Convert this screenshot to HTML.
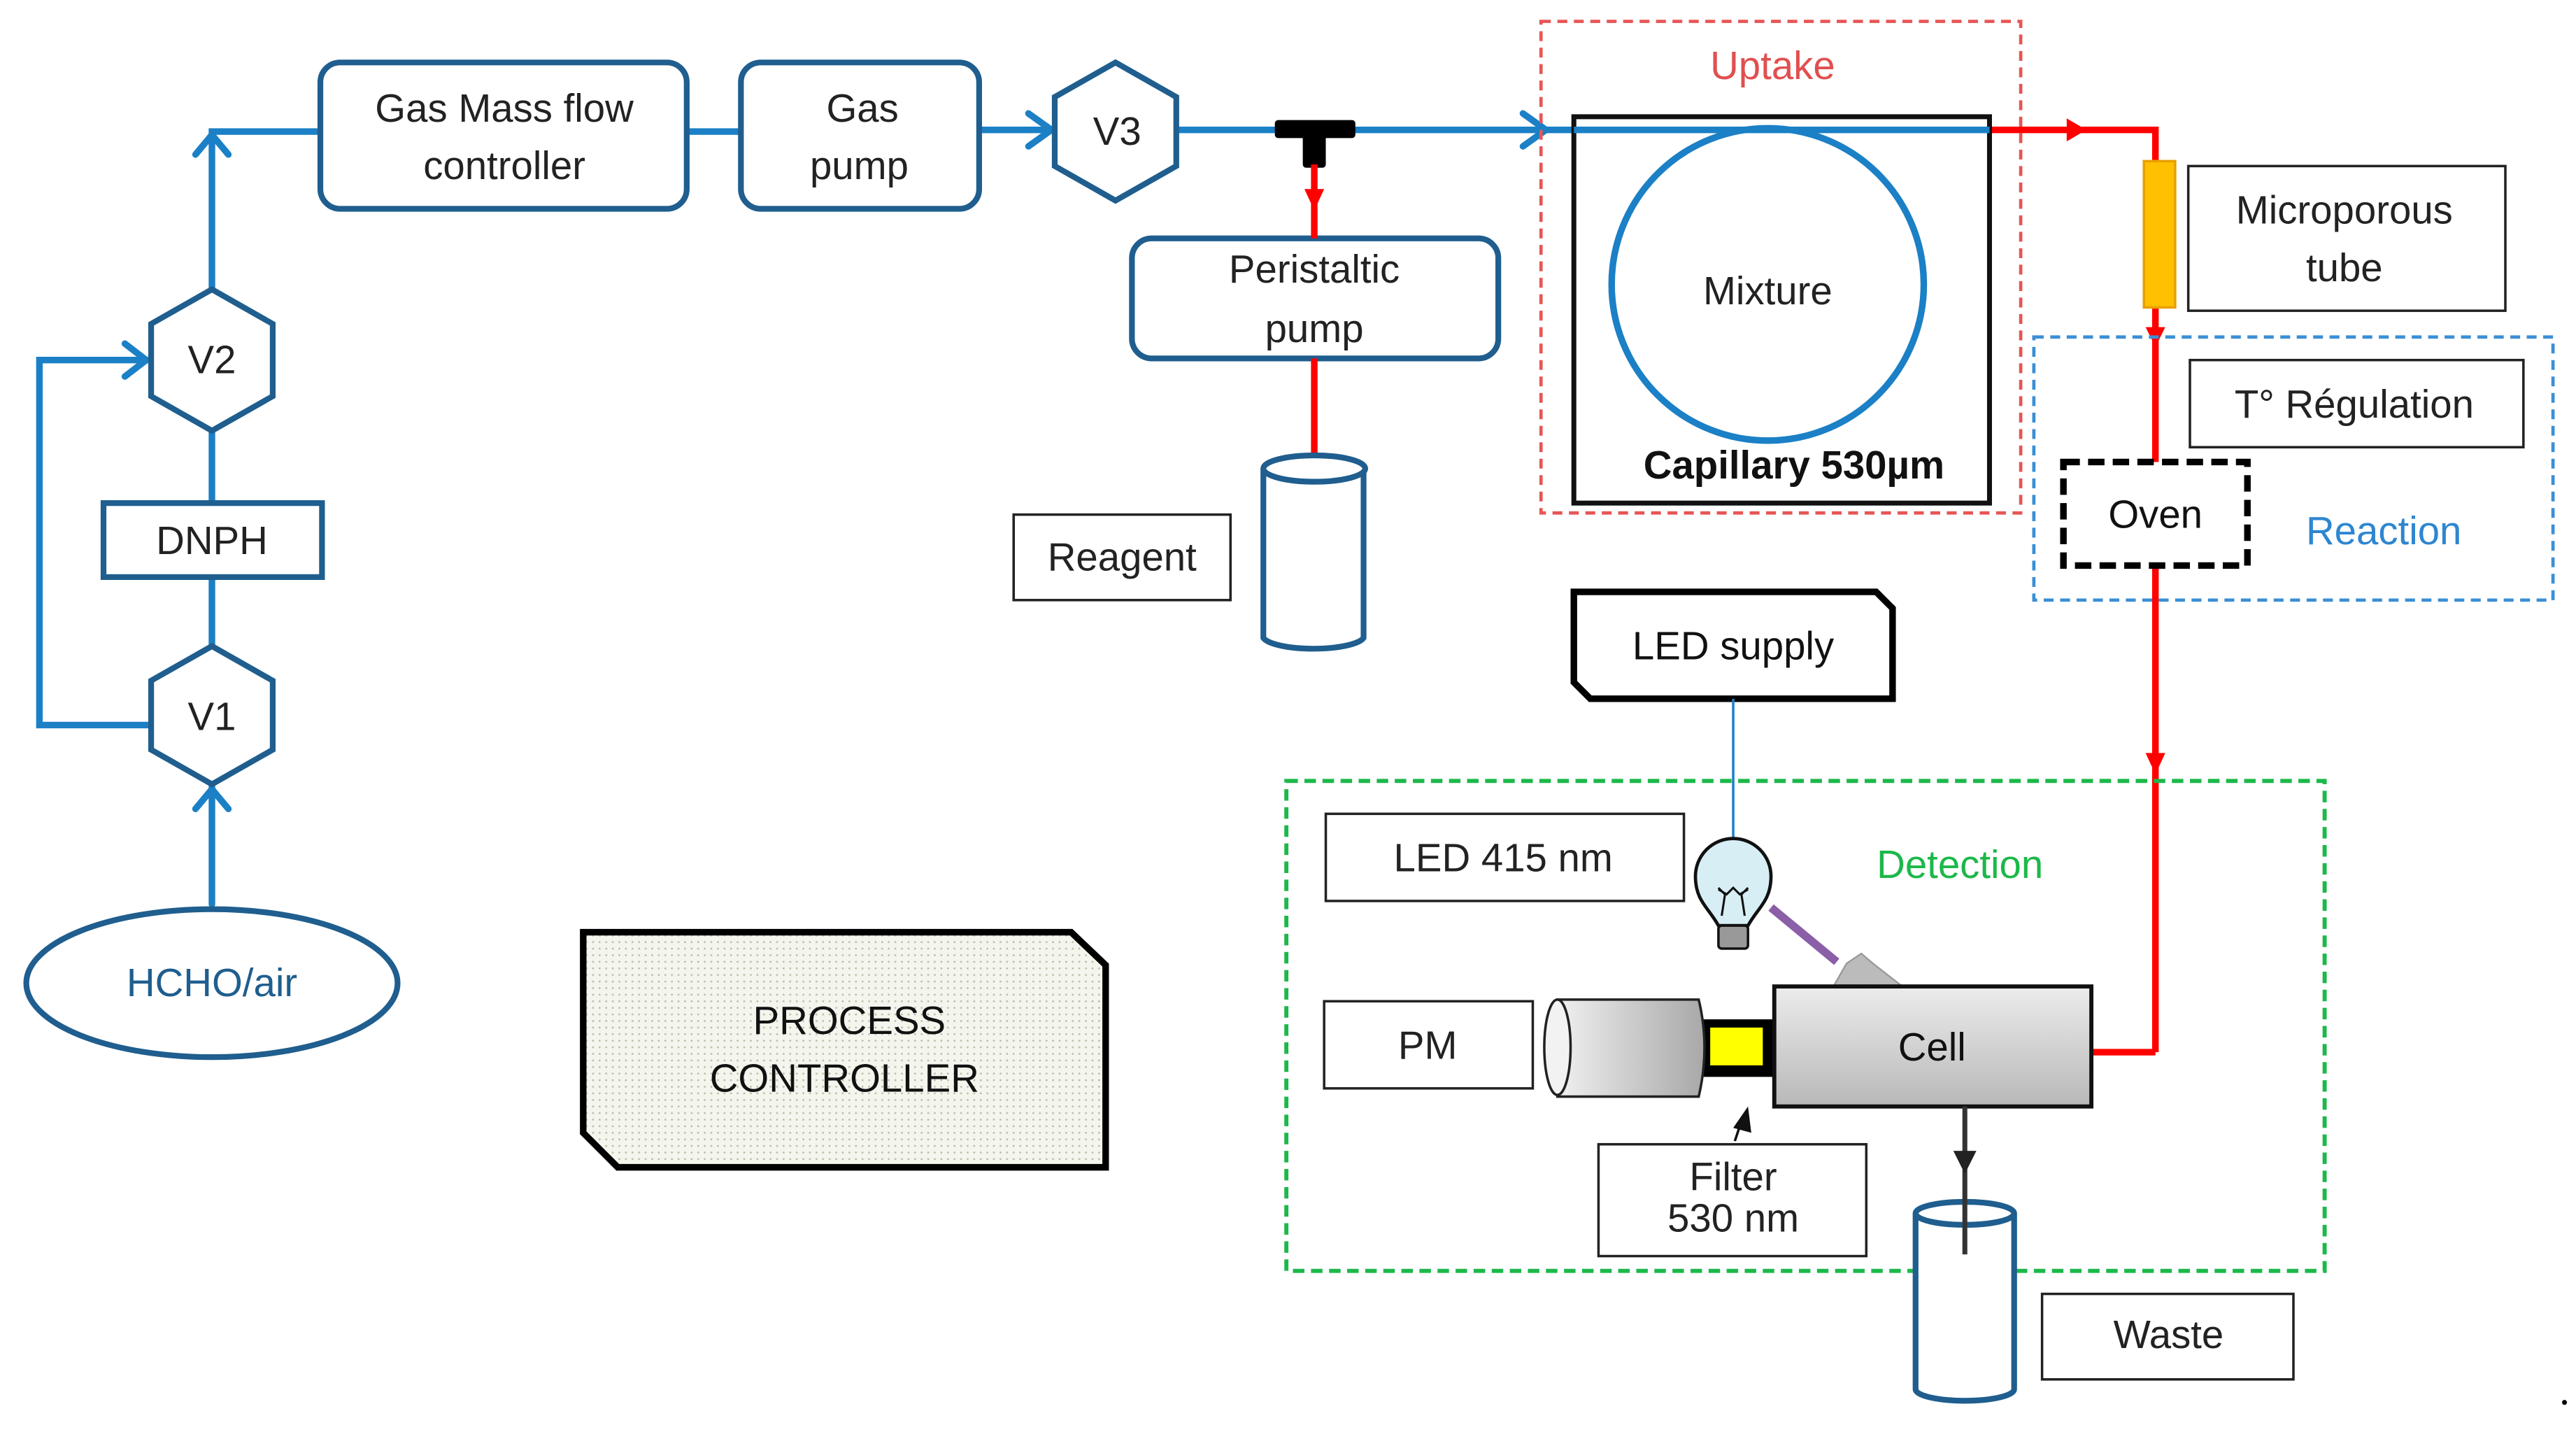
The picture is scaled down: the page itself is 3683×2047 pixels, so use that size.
<!DOCTYPE html>
<html><head><meta charset="utf-8"><style>html,body{margin:0;padding:0;background:#fff}svg{display:block}</style></head><body>
<svg width="3683" height="2047" viewBox="0 0 1568 871" preserveAspectRatio="none" xmlns="http://www.w3.org/2000/svg" font-family="Liberation Sans, sans-serif">
<defs>
<linearGradient id="g1" x1="0" y1="0" x2="0" y2="1"><stop offset="0" stop-color="#ececec"/><stop offset="1" stop-color="#b8b8b8"/></linearGradient>
<linearGradient id="g2" x1="0" y1="0" x2="1" y2="0"><stop offset="0" stop-color="#f0f0f0"/><stop offset="1" stop-color="#a8a8a8"/></linearGradient>
<pattern id="dots" width="4" height="4" patternUnits="userSpaceOnUse"><rect width="4" height="4" fill="#f4f6ee"/><circle cx="1" cy="1" r="0.6" fill="#b8bfa8"/></pattern>
</defs>
<g fill="none" stroke="#1b80c6" stroke-width="4" stroke-linecap="round">
<polyline points="129,176 129,80 195,80"/>
<polyline points="119,94 129,82 139,94"/>
<polyline points="92,441 24,441 24,219 90,219"/>
<polyline points="76,209 89,219 76,229"/>
<line x1="129" y1="550" x2="129" y2="478"/>
<polyline points="119,492 129,480 139,492"/>
<line x1="418" y1="80" x2="451" y2="80"/>
<line x1="596" y1="79" x2="641" y2="79"/>
<polyline points="626,69 640,79 626,89"/>
<line x1="716" y1="79" x2="1211" y2="79"/>
<polyline points="927,69 941,79 927,89"/>
<line x1="129" y1="262" x2="129" y2="306"/>
<line x1="129" y1="351" x2="129" y2="393"/>
</g>
<g fill="#fff" stroke="#1f5e8e" stroke-width="3.5">
<rect x="195" y="38" width="223" height="89" rx="12"/>
<rect x="451" y="38" width="145" height="89" rx="12"/>
<polygon points="679,38 716,59 716,101 679,122 642,101 642,59"/>
<polygon points="129,176 166,197 166,241 129,262 92,241 92,197"/>
<polygon points="129,393 166,414 166,456 129,477 92,456 92,414"/>
<rect x="63" y="306" width="133" height="45"/>
<ellipse cx="129" cy="598" rx="113" ry="45"/>
<rect x="689" y="145" width="223" height="73" rx="12"/>
</g>
<g fill="#222" font-size="24" text-anchor="middle">
<text x="307" y="74">Gas Mass flow</text><text x="307" y="109">controller</text>
<text x="525" y="74">Gas</text><text x="523" y="109">pump</text>
<text x="680" y="88">V3</text><text x="129" y="227">V2</text><text x="129" y="337">DNPH</text><text x="129" y="444">V1</text>
<text x="129" y="606" fill="#1f5e8e">HCHO/air</text>
<text x="800" y="172">Peristaltic</text><text x="800" y="208">pump</text>
</g>
<!-- T junction -->
<rect x="776" y="73" width="49" height="11" rx="2" fill="#000"/><rect x="793" y="80" width="14" height="22" rx="2" fill="#000"/>
<g stroke="#f00" stroke-width="4" fill="none">
<line x1="800" y1="100" x2="800" y2="145"/>
<line x1="800" y1="218" x2="800" y2="298"/>
<polyline points="1211,79 1312,79 1312,98"/>
<line x1="1312" y1="187" x2="1312" y2="640"/>
<polyline points="1312,640 1273,640"/>
</g>
<g fill="#f00">
<polygon points="794,115 806,115 800,128"/>
<polygon points="1258,72 1270,79 1258,86"/>
<polygon points="1306,199 1318,199 1312,211"/>
<polygon points="1306,458 1318,458 1312,471"/>
</g>
<!-- reagent -->
<g fill="#fff" stroke="#1f5e8e" stroke-width="3.5">
<path d="M769,285 L769,388 A31,8 0 0 0 830,388 L830,285"/>
<ellipse cx="800" cy="285" rx="31" ry="8"/>
</g>
<rect x="617" y="313" width="132" height="52" fill="#fff" stroke="#222" stroke-width="1.5"/>
<text x="683" y="347" font-size="24" text-anchor="middle" fill="#222">Reagent</text>
<!-- uptake -->
<rect x="938" y="13" width="292" height="299" fill="none" stroke="#e85555" stroke-width="2" stroke-dasharray="6,4"/>
<text x="1079" y="48" font-size="24" text-anchor="middle" fill="#e05050">Uptake</text>
<rect x="958" y="71" width="253" height="235" fill="#fff" stroke="#111" stroke-width="3"/>
<line x1="958" y1="79" x2="1211" y2="79" stroke="#1b80c6" stroke-width="4"/>
<circle cx="1076" cy="173" r="95" fill="none" stroke="#1b80c6" stroke-width="4"/>
<text x="1076" y="185" font-size="24" text-anchor="middle" fill="#222">Mixture</text>
<text x="1092" y="291" font-size="24" font-weight="bold" text-anchor="middle" fill="#111">Capillary 530µm</text>
<!-- microporous -->
<rect x="1305" y="98" width="19" height="89" fill="#ffc000" stroke="#e8a000" stroke-width="1.5"/>
<rect x="1332" y="101" width="193" height="88" fill="#fff" stroke="#222" stroke-width="1.5"/>
<text x="1427" y="136" font-size="24" text-anchor="middle" fill="#222">Microporous</text><text x="1427" y="171" font-size="24" text-anchor="middle" fill="#222">tube</text>
<rect x="1238" y="205" width="316" height="160" fill="none" stroke="#3a8fd6" stroke-width="2" stroke-dasharray="6,4"/>
<rect x="1333" y="219" width="203" height="53" fill="#fff" stroke="#222" stroke-width="1.5"/>
<text x="1433" y="254" font-size="24" text-anchor="middle" fill="#222">T° Régulation</text>
<rect x="1256" y="281" width="112" height="63" fill="#fff" stroke="#000" stroke-width="4" stroke-dasharray="10,5"/>
<line x1="1312" y1="281" x2="1312" y2="344" stroke="#fff" stroke-width="0"/>
<text x="1312" y="321" font-size="24" text-anchor="middle" fill="#111">Oven</text>
<text x="1451" y="331" font-size="24" text-anchor="middle" fill="#2e86d0">Reaction</text>
<!-- LED supply -->
<polygon points="958,360 1142,360 1152,370 1152,425 968,425 958,415" fill="#fff" stroke="#000" stroke-width="4"/>
<text x="1055" y="401" font-size="24" text-anchor="middle" fill="#111">LED supply</text>
<line x1="1055" y1="425" x2="1055" y2="510" stroke="#1b80c6" stroke-width="1.5"/>
<!-- detection -->
<rect x="783" y="475" width="632" height="298" fill="none" stroke="#1cb84a" stroke-width="2.5" stroke-dasharray="7,4"/>
<text x="1193" y="534" font-size="24" text-anchor="middle" fill="#1cb84a">Detection</text>
<rect x="807" y="495" width="218" height="53" fill="#fff" stroke="#222" stroke-width="1.5"/>
<text x="915" y="530" font-size="24" text-anchor="middle" fill="#222">LED 415 nm</text>
<!-- bulb -->
<path d="M1046,563 C1040,552 1032,548 1032,533 A23,23 0 0 1 1078,533 C1078,548 1070,552 1064,563 Z" fill="#d7eef5" stroke="#111" stroke-width="2"/>
<rect x="1046" y="563" width="18" height="14" rx="2" fill="#999" stroke="#111" stroke-width="1.5"/>
<path d="M1048,557 L1050,544 L1046,540 M1062,557 L1060,544 L1064,540 M1046,541 L1051,544 L1055,540 L1059,544 L1064,541" fill="none" stroke="#111" stroke-width="1.3"/>
<line x1="1078" y1="552" x2="1118" y2="585" stroke="#8b5ea8" stroke-width="5"/>
<polygon points="1116,600 1124,586 1133,580 1140,586 1158,600" fill="#bbb" stroke="#999" stroke-width="1"/>
<!-- PM -->
<rect x="806" y="609" width="127" height="53" fill="#fff" stroke="#222" stroke-width="1.5"/>
<text x="869" y="644" font-size="24" text-anchor="middle" fill="#222">PM</text>
<rect x="1035" y="620" width="48" height="35" fill="#000"/>
<rect x="1041" y="625" width="32" height="23" fill="#ffff00"/>
<path d="M948,608 L1034,608 Q1041,637 1034,667 L948,667 Z" fill="url(#g2)" stroke="#222" stroke-width="1.5"/>
<ellipse cx="948" cy="637" rx="8" ry="29" fill="#f2f2f2" stroke="#222" stroke-width="1.5"/>
<rect x="1080" y="600" width="193" height="73" fill="url(#g1)" stroke="#111" stroke-width="2.5"/>
<text x="1176" y="645" font-size="24" text-anchor="middle" fill="#111">Cell</text>
<line x1="1056" y1="694" x2="1060" y2="682" stroke="#111" stroke-width="1.5"/>
<polygon points="1055,686 1064,673 1066,689" fill="#111"/>
<rect x="973" y="696" width="163" height="68" fill="#fff" stroke="#222" stroke-width="1.5"/>
<text x="1055" y="724" font-size="24" text-anchor="middle" fill="#222">Filter</text><text x="1055" y="749" font-size="24" text-anchor="middle" fill="#222">530 nm</text>
<!-- waste -->
<g fill="#fff" stroke="#1f5e8e" stroke-width="3.5">
<path d="M1166,738 L1166,845 A30,7 0 0 0 1226,845 L1226,738"/>
<ellipse cx="1196" cy="738" rx="30" ry="7"/>
</g>
<line x1="1196" y1="673" x2="1196" y2="763" stroke="#333" stroke-width="3"/>
<polygon points="1189,700 1203,700 1196,714" fill="#222"/>
<rect x="1243" y="787" width="153" height="52" fill="#fff" stroke="#222" stroke-width="1.5"/>
<text x="1320" y="820" font-size="24" text-anchor="middle" fill="#222">Waste</text>
<!-- process controller -->
<polygon points="355,567 652,567 673,587 673,710 376,710 355,689" fill="url(#dots)" stroke="#000" stroke-width="4"/>
<text x="517" y="629" font-size="24" text-anchor="middle" fill="#111">PROCESS</text>
<text x="514" y="664" font-size="24" text-anchor="middle" fill="#111">CONTROLLER</text>
<circle cx="1561" cy="853" r="1.5" fill="#000"/>
</svg>
</body></html>
